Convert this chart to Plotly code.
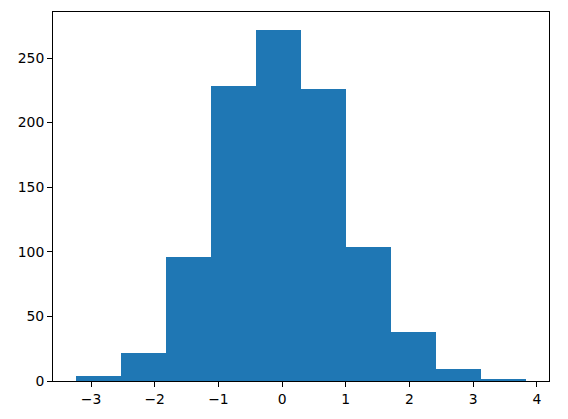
import plotly.graph_objects as go

bin_edges = [-3.243, -2.535, -1.827, -1.119, -0.411, 0.297, 1.005, 1.713, 2.421, 3.129, 3.837]
counts = [4, 22, 96, 228, 272, 226, 104, 38, 9, 1]

centers = [(bin_edges[i] + bin_edges[i + 1]) / 2 for i in range(len(counts))]
widths = [bin_edges[i + 1] - bin_edges[i] for i in range(len(counts))]

fig = go.Figure(go.Bar(x=centers, y=counts, width=widths, marker=dict(color="#1f77b4", line=dict(width=0))))

span = bin_edges[-1] - bin_edges[0]
axis_common = dict(showline=True, linecolor="black", linewidth=1, mirror=True, ticks="outside",
                   ticklen=5, tickcolor="black", showgrid=False, zeroline=False,
                   tickfont=dict(family="DejaVu Sans", size=13.9, color="black"))
# page body has an 8px default margin; compensate so the plot area lands where it should
fig.update_layout(
    width=560, height=411,
    margin=dict(l=45, r=19, t=4, b=38),
    plot_bgcolor="white", paper_bgcolor="white",
    bargap=0, showlegend=False,
    xaxis=dict(range=[bin_edges[0] - 0.05 * span, bin_edges[-1] + 0.05 * span],
               tickvals=[-3, -2, -1, 0, 1, 2, 3, 4], ticktext=["−3", "−2", "−1", "0", "1", "2", "3", "4"], **axis_common),
    yaxis=dict(range=[0, max(counts) * 1.05], tickvals=[0, 50, 100, 150, 200, 250], **axis_common),
)
fig.write_html("out.html")
